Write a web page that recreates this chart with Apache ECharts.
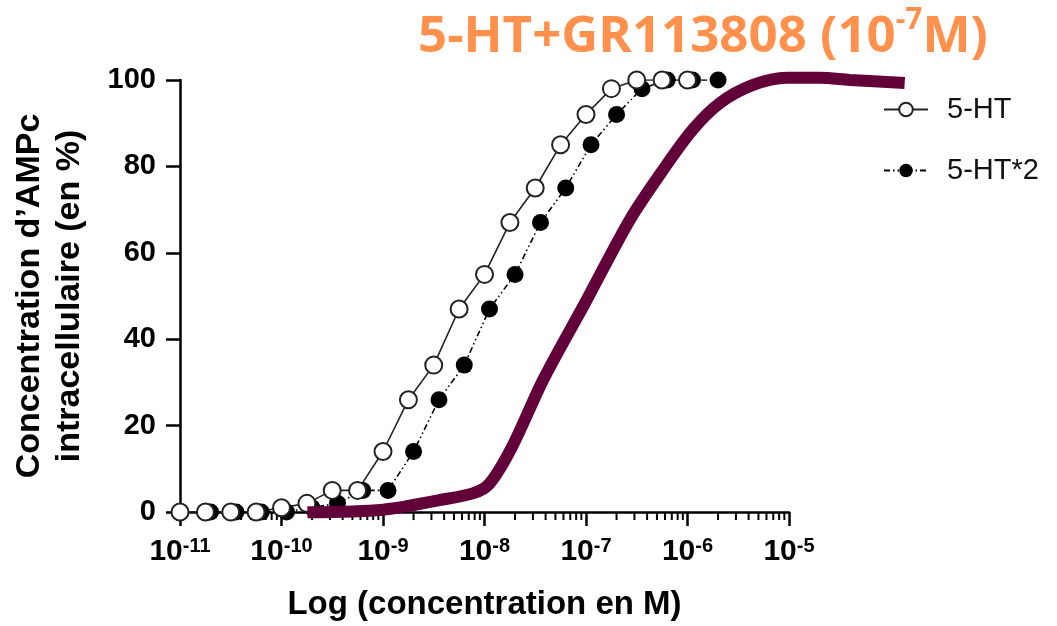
<!DOCTYPE html>
<html>
<head>
<meta charset="utf-8">
<script src="https://cdn.jsdelivr.net/npm/echarts@6/dist/echarts.min.js"></script>
<style>
  html, body { margin: 0; padding: 0; background: #fff; }
  #main { width: 1057px; height: 626px; }
</style>
</head>
<body>
<div id="main"></div>
<script>
// concentrations (M) and responses (% AMPc)
const conc5HT = [1e-11, 1.78e-11, 3.16e-11, 5.62e-11, 1e-10, 1.78e-10, 3.16e-10, 5.62e-10, 1e-9, 1.78e-9, 3.16e-9,
  5.62e-9, 1e-8, 1.78e-8, 3.16e-8, 5.62e-8, 1e-7, 1.78e-7, 3.16e-7, 5.62e-7, 1e-6];
const val5HT = [0, 0, 0, 0, 1, 2, 5, 5, 14, 26, 34, 47, 55, 67, 75, 85, 92, 98, 100, 100, 100];

const conc5HT2 = [2e-11, 3.56e-11, 6.32e-11, 1.12e-10, 2e-10, 3.56e-10, 6.32e-10, 1.12e-9, 2e-9, 3.56e-9, 6.32e-9,
  1.12e-8, 2e-8, 3.56e-8, 6.32e-8, 1.12e-7, 2e-7, 3.56e-7, 6.32e-7, 1.12e-6, 2e-6];
const val5HT2 = [0, 0, 0, 0, 1, 2, 5, 5, 14, 26, 34, 47, 55, 67, 75, 85, 92, 98, 100, 100, 100];

// curve with GR113808 (runs past the end of the axis)
const concGR = [1.8e-10, 1e-9, 3.6e-9, 7.8e-9, 1.12e-8, 1.86e-8, 3.8e-8, 9.77e-8, 2.69e-7, 5.75e-7, 1.12e-6,
  2.09e-6, 4.37e-6, 9.55e-6, 2.04e-5, 3.98e-5, 1.38e-4];
const valGR = [0.4, 1, 3.2, 4.8, 7, 15.4, 31, 48.6, 67.7, 79.3, 88.5, 94.7, 98.8, 100.5, 100.5, 100, 99.3];

const yTicks = [0, 20, 40, 60, 80, 100];

// minor tick positions on the log axis (2..9 x 10^n)
const minorTicks = [];
for (let n = -11; n < -5; n++) {
  for (let k = 2; k <= 9; k++) minorTicks.push([k * Math.pow(10, n), 0]);
}

const pair = (xs, ys) => xs.map((x, i) => [x, ys[i]]);
const font = 'Liberation Sans, Arial, sans-serif';

const myChart = echarts.init(document.querySelector('#main'));

const option = {
  animation: false,
  title: {
    left: 413,
    top: 0,
    text: '{a|5-HT+GR113808 (10}{s|-7}{a|M)}',
    textStyle: {
      rich: {
        a: { fontFamily: 'Open Sans', fontWeight: 'bold', fontSize: 51, color: '#ff914d', lineHeight: 64 },
        s: { fontFamily: 'Open Sans', fontWeight: 'bold', fontSize: 30, color: '#ff914d', verticalAlign: 'top', lineHeight: 40 }
      }
    }
  },
  legend: {
    data: ['5-HT', '5-HT*2'],
    orient: 'vertical',
    left: 878,
    top: 90,
    itemWidth: 44,
    itemHeight: 17,
    itemGap: 32,
    textStyle: { fontFamily: font, fontSize: 29, color: '#111', padding: [0, 0, 0, 14] }
  },
  grid: [
    { left: 180, right: 268, top: 80, bottom: 112 },
    // wider twin grid, same scale per decade, for the curve that runs past 10^-5
    { left: 180, right: 65, top: 80, bottom: 112 }
  ],
  xAxis: [{
    type: 'log',
    logBase: 10,
    min: 1e-11,
    max: 1e-5,
    name: 'Log (concentration en M)',
    nameLocation: 'middle',
    nameGap: 76,
    nameTextStyle: { fontFamily: font, fontWeight: 'bold', fontSize: 33, color: '#000' },
    axisLine: { lineStyle: { color: '#000', width: 2.5 } },
    axisTick: { length: 14, lineStyle: { color: '#000', width: 2.5 } },
    splitLine: { show: false },
    axisLabel: {
      margin: 24,
      formatter: function (v) {
        return '{b|10}{s|' + Math.round(Math.log10(v)) + '}';
      },
      rich: {
        b: { fontFamily: font, fontWeight: 'bold', fontSize: 30, color: '#000', lineHeight: 32 },
        s: { fontFamily: font, fontWeight: 'bold', fontSize: 20, color: '#000', verticalAlign: 'top', lineHeight: 20 }
      }
    }
  }, {
    type: 'log',
    gridIndex: 1,
    logBase: 10,
    min: 1e-11,
    max: 1e-3,
    show: false
  }],
  yAxis: [{
    type: 'value',
    min: yTicks[0],
    max: yTicks[yTicks.length - 1],
    interval: 20,
    name: 'Concentration d\u2019AMPc\nintracellulaire (en %)',
    nameLocation: 'middle',
    nameRotate: 90,
    nameGap: 90,
    nameTextStyle: { fontFamily: font, fontWeight: 'bold', fontSize: 34, color: '#000', lineHeight: 40 },
    axisLine: { show: true, lineStyle: { color: '#000', width: 2.5 } },
    axisTick: { show: true, length: 14, lineStyle: { color: '#000', width: 2.5 } },
    splitLine: { show: false },
    axisLabel: { margin: 24, fontFamily: font, fontWeight: 'bold', fontSize: 29, color: '#000' }
  }, {
    type: 'value',
    gridIndex: 1,
    min: yTicks[0],
    max: yTicks[yTicks.length - 1],
    show: false
  }],
  series: [
    {
      type: 'custom',
      silent: true,
      clip: false,
      data: minorTicks,
      renderItem: function (params, api) {
        const p = api.coord([api.value(0), 0]);
        return {
          type: 'line',
          shape: { x1: p[0], y1: p[1], x2: p[0], y2: p[1] + 8 },
          style: { stroke: '#000', lineWidth: 2 }
        };
      }
    },
    {
      name: '5-HT*2',
      type: 'line',
      data: pair(conc5HT2, val5HT2),
      symbol: 'circle',
      symbolSize: 17,
      itemStyle: { color: '#000' },
      lineStyle: { color: '#000', width: 1.6, type: [6, 3, 1.5, 3, 1.5, 3] }
    },
    {
      name: '5-HT',
      type: 'line',
      data: pair(conc5HT, val5HT),
      symbol: 'circle',
      symbolSize: 17,
      itemStyle: { color: '#fff', borderColor: '#222', borderWidth: 2 },
      lineStyle: { color: '#222', width: 1.6 }
    },
    {
      name: 'GR113808',
      type: 'line',
      xAxisIndex: 1,
      yAxisIndex: 1,
      data: pair(concGR, valGR),
      smooth: 0.3,
      clip: false,
      showSymbol: false,
      symbol: 'none',
      lineStyle: { color: '#62003a', width: 12, cap: 'butt' },
      z: 5
    }
  ]
};

myChart.setOption(option);
</script>
</body>
</html>
